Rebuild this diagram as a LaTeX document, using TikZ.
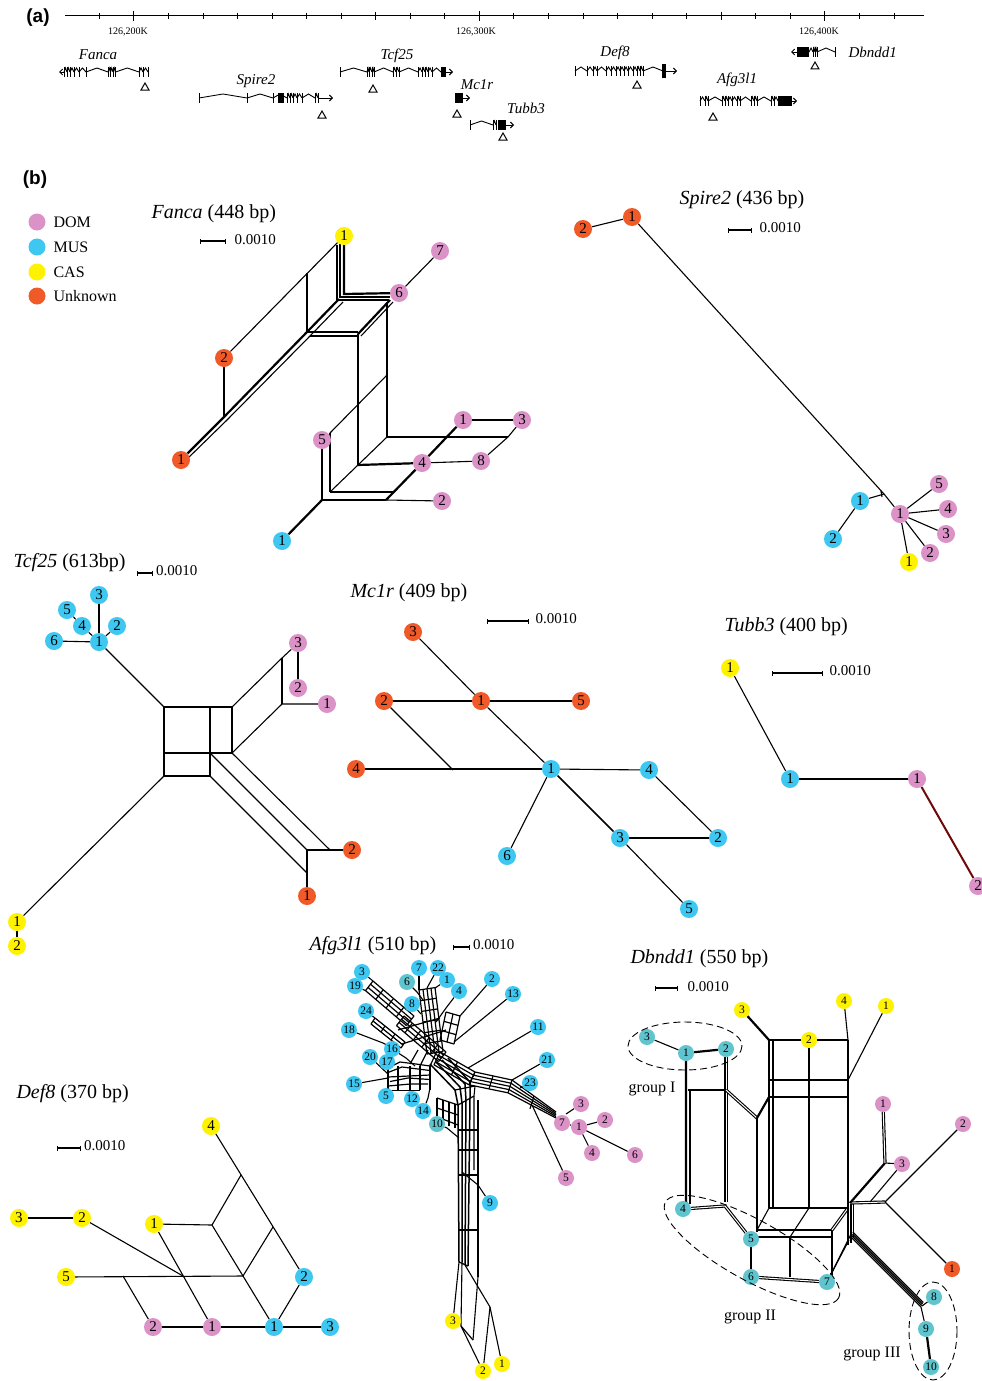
\documentclass[tikz,border=0pt]{standalone}
\usepackage{tikz}
\usepackage{fontspec}
\setmainfont{Liberation Serif}
\newfontfamily\lsans{Liberation Sans}
\usetikzlibrary{arrows.meta}
\pgfdeclarelayer{back}
\pgfdeclarelayer{bg}
\pgfsetlayers{back,bg,main}
\definecolor{domc}{RGB}{219,146,198}
\definecolor{musc}{RGB}{62,199,240}
\definecolor{casc}{RGB}{255,242,0}
\definecolor{unkc}{RGB}{240,90,40}
\definecolor{telc}{RGB}{95,196,205}
\definecolor{tubred}{RGB}{110,10,10}
\newcommand{\genehats}[3]{%
  \foreach \x [remember=\x as \lx (initially #2)] in {#3} {
    \draw[gl] (\lx,#1) -- ({(\lx+\x)/2},{#1-4}) -- (\x,#1);
    \draw[gl] (\x,{#1-5}) -- (\x,{#1+5});
  }}
\newcommand{\gtri}[2]{\draw[line width=1pt] ({#1-4},{#2+3}) -- ({#1+4},{#2+3}) -- (#1,{#2-4}) -- cycle;}
\newcommand{\ladder}[8]{%
  \foreach \i in {0,...,#7} \draw[thn] ({#1+\i*#5},{#2+\i*#6}) -- ({#3+\i*#5},{#4+\i*#6});
  \foreach \j in {0,...,#8} \draw[thn] ({#1+(#3-#1)*\j/#8},{#2+(#4-#2)*\j/#8}) -- ++({#7*#5},{#7*#6});
}
\begin{document}
\begin{tikzpicture}[x=1pt,y=-1pt,
  hap/.style={circle,inner sep=0pt,minimum size=18pt,font=\fontsize{15}{15}\selectfont},
  hs/.style={circle,inner sep=0pt,minimum size=16pt,font=\fontsize{11.5}{11.5}\selectfont},
  cD/.style={fill=domc}, cM/.style={fill=musc}, cC/.style={fill=casc}, cU/.style={fill=unkc}, cT/.style={fill=telc},
  ttl/.style={font=\fontsize{20}{20}\selectfont, anchor=west},
  sclab/.style={font=\fontsize{15}{15}\selectfont, anchor=west},
  net/.style={line width=1.1pt},
  thk/.style={line width=2.2pt},
  thn/.style={line width=1.2pt},
  dbl/.style={double=white, double distance=1pt, line width=1.1pt},
  sbar/.style={line width=1.1pt, {Bar[width=5pt]}-{Bar[width=5pt]}},
  gl/.style={line width=0.9pt},
  garr/.style={gl,-{Straight Barb[length=3pt,width=6pt]}},
  gname/.style={font=\itshape\fontsize{15}{15}\selectfont},
  grp/.style={dash pattern=on 7pt off 4pt, line width=0.9pt},
  grplab/.style={font=\fontsize{16}{16}\selectfont},
  leg/.style={font=\fontsize{16}{16}\selectfont, anchor=west}]
\useasboundingbox (0,0) rectangle (982,1381);
\begin{pgfonlayer}{back}
\fill[white] (0,0) rectangle (982,1381);
\end{pgfonlayer}

% ---------------- panel (a) ----------------
\node[font=\lsans\bfseries\fontsize{19}{19}\selectfont] (la) at (38,18) {(a)};
\draw[line width=1pt] (65,16) -- (924,16);
\foreach \i in {0,...,23} \draw[line width=0.9pt] ({99.3+\i*34.55},13) -- ++(0,6);
\foreach \i in {1,11,21} \draw[line width=1pt] ({99.3+\i*34.55},11) -- ++(0,10);
\foreach \i in {8,18} \draw[line width=1.3pt] ({99.3+\i*34.55},12) -- ++(0,8);
\node[font=\fontsize{10}{10}\selectfont] (k2) at (128,32) {126,200K};
\node[font=\fontsize{10}{10}\selectfont] (k3) at (476,32) {126,300K};
\node[font=\fontsize{10}{10}\selectfont] (k4) at (819,32) {126,400K};

\node[gname] (gFanca) at (98,55) {Fanca};
\draw[garr] (64,72) -- (59,72);
\genehats{72}{64}{64,67,70,74,79,86,108,110.5,113,115.5,139,143,148}
\gtri{145}{87}

\node[gname] (gSpire) at (256,81) {Spire2};
\genehats{98}{199}{199,247,273,287,290,293,297,302,315,318}
\fill (278,93) rectangle (284,103);
\draw[garr] (318,98) -- (333,98);
\gtri{322}{115}

\node[gname] (gTcf) at (397,56) {Tcf25};
\genehats{72}{340}{340,367,369,372,374,393,396,399,418,422,425,428,432,441}
\fill (441,67) rectangle (446,77);
\draw[garr] (446,72) -- (453,72);
\gtri{373}{89}

\node[gname] (gMc) at (477,85) {Mc1r};
\fill (455,93) rectangle (463,103);
\draw[garr] (463,98) -- (470,98);
\gtri{457}{114}

\node[gname] (gTub) at (526,108) {Tubb3};
\genehats{125}{470}{470,493,496}
\fill (498,120) rectangle (506,130);
\draw[garr] (506,125) -- (514,125);
\gtri{503}{137}

\node[gname] (gDef) at (615,53) {Def8};
\genehats{71}{575}{575,587,593,597,606,611,616,620,624,628,633,637,640,643,663}
\fill (662,64) rectangle (666,78);
\draw[garr] (666,71) -- (677,71);
\gtri{637}{85}

\node[gname] (gAfg) at (737,80) {Afg3l1};
\genehats{101}{700}{700,705,708,722,725,728,732,737,740,751,754,757,771,774,778}
\fill (778,96) rectangle (792,106);
\draw[garr] (792,101) -- (797,101);
\gtri{713}{117}

\node[gname, anchor=west] (gDbn) at (845,52) {Dbndd1};
\draw[garr] (797,52) -- (791,52);
\fill (797,47) rectangle (809,57);
\genehats{52}{809}{813,815,817,835}
\gtri{815}{66}

% ---------------- panel (b) ----------------
\node[font=\lsans\bfseries\fontsize{19}{19}\selectfont] (lb) at (35,180) {(b)};
\node[hap,cD,minimum size=17pt] (lg1) at (37,222) {};
\node[hap,cM,minimum size=17pt] (lg2) at (37,247) {};
\node[hap,cC,minimum size=17pt] (lg3) at (37,272) {};
\node[hap,cU,minimum size=17pt] (lg4) at (37,296) {};
\node[leg] (lt1) at (50,222) {DOM};
\node[leg] (lt2) at (50,247) {MUS};
\node[leg] (lt3) at (50,272) {CAS};
\node[leg] (lt4) at (50,296) {Unknown};

% ===== Fanca =====
\node[ttl] (tFa) at (148,214) {\textit{Fanca} (448 bp)};
\draw[sbar] (200,241) -- (226,241);
\node[sclab] (sFa) at (231,240) {0.0010};
\node[hap,cC] (fa-c1) at (344,236) {1};
\node[hap,cD] (fa-d7) at (440,251) {7};
\node[hap,cD] (fa-d6) at (399,293) {6};
\node[hap,cU] (fa-u2) at (224,358) {2};
\node[hap,cU] (fa-u1) at (181,460) {1};
\node[hap,cD] (fa-d5) at (322,440) {5};
\node[hap,cD] (fa-d1) at (463,420) {1};
\node[hap,cD] (fa-d3) at (522,420) {3};
\node[hap,cD] (fa-d4) at (422,463) {4};
\node[hap,cD] (fa-d8) at (481,461) {8};
\node[hap,cD] (fa-d2) at (442,501) {2};
\node[hap,cM] (fa-m1) at (282,541) {1};
\begin{pgfonlayer}{bg}
\draw[thk] (fa-c1) -- (344,294) -- (fa-d6);
\draw[net] (340,244) -- (340,297) -- (390,297);
\draw[net] (337,245) -- (337,300) -- (389,300);
\draw[net] (fa-c1) -- (fa-u2);
\draw[net] (307,273) -- (307,332);
\draw[thk] (339,299) -- (307,332) -- (224,417) -- (fa-u1);
\draw[net] (343,302) -- (310,336) -- (227,420) -- (184,462);
\draw[net] (fa-u2) -- (224,417);
\draw[net] (307,332) -- (358,332);
\draw[net] (310,336) -- (358,336);
\draw[thk] (390,300) -- (358,334);
\draw[net] (393,302) -- (361,336);
\draw[net] (358,334) -- (358,465);
\draw[net] (387,302) -- (387,437);
\draw[net] (330,433) -- (387,375);
\draw[thk] (fa-d5) -- (322,500);
\draw[net] (330,433) -- (330,492);
\draw[thk] (322,500) -- (386,500);
\draw[net] (386,500) -- (fa-d2);
\draw[net] (330,492) -- (393,492);
\draw[thk] (322,500) -- (fa-m1);
\draw[net] (330,492) -- (358,465);
\draw[thk] (358,465) -- (fa-d4);
\draw[thk] (386,500) -- (fa-d4);
\draw[thk] (fa-d4) -- (fa-d1);
\draw[line width=1.6pt] (387,437) -- (508,437);
\draw[net] (387,437) -- (358,465);
\draw[thk] (fa-d1) -- (fa-d3);
\draw[net] (fa-d3) -- (508,437) -- (fa-d8);
\draw[net] (fa-d4) -- (fa-d8);
\draw[net] (fa-d6) -- (fa-d7);
\end{pgfonlayer}

% ===== Spire2 =====
\node[ttl] (tSp) at (676,200) {\textit{Spire2} (436 bp)};
\draw[sbar] (728,230) -- (752,230);
\node[sclab] (sSp) at (756,228) {0.0010};
\node[hap,cU] (sp-u2) at (583,229) {2};
\node[hap,cU] (sp-u1) at (632,217) {1};
\node[hap,cM] (sp-m1) at (860,501) {1};
\node[hap,cM] (sp-m2) at (833,539) {2};
\node[hap,cD] (sp-d1) at (900,514) {1};
\node[hap,cD] (sp-d5) at (939,484) {5};
\node[hap,cD] (sp-d4) at (948,509) {4};
\node[hap,cD] (sp-d3) at (946,534) {3};
\node[hap,cD] (sp-d2) at (930,553) {2};
\node[hap,cC] (sp-c1) at (909,562) {1};
\begin{pgfonlayer}{bg}
\draw[net] (sp-u2) -- (sp-u1);
\draw[net] (sp-u1) -- (884,494) -- (sp-d1);
\draw[net] (sp-m1) -- (884,494);
\draw[net] (881,491) -- (882,497);
\draw[net] (sp-m1) -- (sp-m2);
\foreach \n in {sp-d5,sp-d4,sp-d3,sp-d2,sp-c1} \draw[net] (sp-d1) -- (\n);
\end{pgfonlayer}

% ===== Tcf25 =====
\node[ttl] (tTc) at (10,563) {\textit{Tcf25} (613bp)};
\draw[sbar] (137,573) -- (153,573);
\node[sclab,inner sep=1pt] (sTc) at (155,571) {0.0010};
\node[hap,cM] (tc-m3) at (99,595) {3};
\node[hap,cM] (tc-m5) at (67,610) {5};
\node[hap,cM] (tc-m4) at (82,626) {4};
\node[hap,cM] (tc-m2) at (117,626) {2};
\node[hap,cM] (tc-m6) at (54,641) {6};
\node[hap,cM] (tc-m1) at (99,642) {1};
\node[hap,cD] (tc-d3) at (298,643) {3};
\node[hap,cD] (tc-d2) at (298,688) {2};
\node[hap,cD] (tc-d1) at (327,704) {1};
\node[hap,cU] (tc-u2) at (352,850) {2};
\node[hap,cU] (tc-u1) at (307,896) {1};
\node[hap,cC] (tc-c1) at (17,922) {1};
\node[hap,cC] (tc-c2) at (17,946) {2};
\begin{pgfonlayer}{bg}
\draw[net] (tc-m1) -- (tc-m3);
\draw[net] (tc-m1) -- (tc-m2);
\draw[net] (tc-m1) -- (tc-m4);
\draw[net] (tc-m4) -- (tc-m5);
\draw[net] (tc-m1) -- (tc-m6);
\draw[net] (tc-m1) -- (164,707);
\draw[net] (164,707) -- (232,707) -- (232,753) -- (164,753);
\draw[net] (164,707) -- (164,776) -- (210,776) -- (210,707);
\draw[net] (232,707) -- (282,658) -- (tc-d3);
\draw[net] (232,753) -- (282,704) -- (tc-d1);
\draw[net] (282,658) -- (282,704);
\draw[net] (tc-d3) -- (tc-d2);
\draw[net] (164,776) -- (tc-c1);
\draw[net] (tc-c1) -- (tc-c2);
\draw[net] (232,753) -- (330,850);
\draw[net] (210,753) -- (307,850);
\draw[net] (210,776) -- (307,873);
\draw[net] (307,850) -- (tc-u2);
\draw[net] (307,850) -- (tc-u1);
\end{pgfonlayer}

% ===== Mc1r =====
\node[ttl] (tMc) at (347,593) {\textit{Mc1r} (409 bp)};
\draw[sbar] (487,621) -- (529,621);
\node[sclab] (sMc) at (532,619) {0.0010};
\node[hap,cU] (mc-u3) at (413,632) {3};
\node[hap,cU] (mc-u2) at (384,701) {2};
\node[hap,cU] (mc-u1) at (481,701) {1};
\node[hap,cU] (mc-u5) at (581,701) {5};
\node[hap,cU] (mc-u4) at (356,769) {4};
\node[hap,cM] (mc-m1) at (551,769) {1};
\node[hap,cM] (mc-m4) at (649,770) {4};
\node[hap,cM] (mc-m3) at (620,838) {3};
\node[hap,cM] (mc-m2) at (718,838) {2};
\node[hap,cM] (mc-m6) at (507,856) {6};
\node[hap,cM] (mc-m5) at (689,909) {5};
\begin{pgfonlayer}{bg}
\draw[net] (mc-u3) -- (mc-u1);
\draw[net] (mc-u2) -- (mc-u1);
\draw[net] (mc-u1) -- (mc-u5);
\draw[net] (mc-u1) -- (mc-m1);
\draw[net] (mc-u2) -- (453,770);
\draw[net] (mc-u4) -- (mc-m1);
\draw[net] (mc-m1) -- (mc-m4);
\draw[line width=1.6pt] (mc-m1) -- (mc-m3);
\draw[net] (mc-m1) -- (mc-m6);
\draw[net] (mc-m4) -- (mc-m2);
\draw[thk] (mc-m3) -- (mc-m2);
\draw[net] (mc-m3) -- (mc-m5);
\end{pgfonlayer}

% ===== Tubb3 =====
\node[ttl] (tTu) at (721,627) {\textit{Tubb3} (400 bp)};
\draw[sbar] (772,673) -- (823,673);
\node[sclab] (sTu) at (826,671) {0.0010};
\node[hap,cC] (tu-c1) at (730,668) {1};
\node[hap,cM] (tu-m1) at (790,779) {1};
\node[hap,cD] (tu-d1) at (917,779) {1};
\node[hap,cD] (tu-d2) at (978,886) {2};
\begin{pgfonlayer}{bg}
\draw[net] (tu-c1) -- (tu-m1);
\draw[net] (tu-m1) -- (tu-d1);
\draw[line width=2pt, tubred] (tu-d1) -- (tu-d2);
\end{pgfonlayer}

% ===== Afg3l1 =====
\node[ttl] (tAf) at (306,946) {\textit{Afg3l1} (510 bp)};
\draw[sbar] (453,947) -- (470,947);
\node[sclab,inner sep=1pt] (sAf) at (472,945) {0.0010};
\node[hs,cM] (af-m3) at (362,972) {3};
\node[hs,cM] (af-m19) at (355,986) {19};
\node[hs,cM] (af-m7) at (419,968) {7};
\node[hs,cM] (af-m22) at (438,968) {22};
\node[hs,cT] (af-t6) at (407,982) {6};
\node[hs,cM] (af-m1) at (447,980) {1};
\node[hs,cM] (af-m4) at (459,991) {4};
\node[hs,cM] (af-m2) at (492,979) {2};
\node[hs,cM] (af-m8) at (412,1004) {8};
\node[hs,cM] (af-m13) at (513,994) {13};
\node[hs,cM] (af-m24) at (366,1011) {24};
\node[hs,cM] (af-m18) at (349,1030) {18};
\node[hs,cM] (af-m11) at (538,1027) {11};
\node[hs,cM] (af-m20) at (370,1057) {20};
\node[hs,cM] (af-m17) at (387,1062) {17};
\node[hs,cM] (af-m16) at (392,1049) {16};
\node[hs,cM] (af-m21) at (547,1060) {21};
\node[hs,cM] (af-m15) at (354,1084) {15};
\node[hs,cM] (af-m23) at (530,1083) {23};
\node[hs,cM] (af-m5) at (386,1096) {5};
\node[hs,cM] (af-m12) at (412,1099) {12};
\node[hs,cM] (af-m14) at (423,1111) {14};
\node[hs,cT] (af-t10) at (437,1124) {10};
\node[hs,cD] (af-d3) at (581,1104) {3};
\node[hs,cD] (af-d7) at (562,1123) {7};
\node[hs,cD] (af-d2) at (605,1120) {2};
\node[hs,cD] (af-d1) at (579,1127) {1};
\node[hs,cD] (af-d4) at (592,1153) {4};
\node[hs,cD] (af-d6) at (635,1155) {6};
\node[hs,cD] (af-d5) at (566,1178) {5};
\node[hs,cM] (af-m9) at (490,1203) {9};
\node[hs,cC] (af-c3) at (453,1321) {3};
\node[hs,cC] (af-c2) at (483,1371) {2};
\node[hs,cC] (af-c1) at (502,1364) {1};
\begin{pgfonlayer}{bg}
% upper-left arm
\ladder{373}{981}{414}{1016}{-2.5}{3.2}{3}{4}
\draw[net] (af-m3) -- (373,981);
\draw[net] (af-m19) -- (365.5,990.6);
\ladder{375}{1018}{405}{1042}{-2}{3}{2}{3}
\draw[net] (af-m24) -- (375,1018);
\draw[net] (af-m18) -- (383,1043) -- (400,1052);
% top arm and core
\ladder{419}{990}{427}{1054}{4}{-0.6}{4}{6}
\ladder{404}{1016}{446}{1052}{-2.5}{3.2}{3}{5}
\draw[thn] (398,1030) -- (440,1018);
\draw[thn] (402,1044) -- (446,1030);
\draw[net] (af-m7) -- (419,990);
\draw[net] (af-m22) -- (427,988);
\draw[net] (af-m1) -- (435,988);
\draw[net] (af-t6) -- (417,992) -- (423,1000);
\draw[net] (af-m8) -- (421,1014);
\draw[net] (af-m4) -- (446,1008) -- (436,1022);
\ladder{446}{1012}{440}{1040}{7}{2}{2}{3}
\draw[net] (af-m2) -- (460,1016);
\draw[net] (af-m13) -- (454,1042);
% left cluster
\draw[thn] (388,1068) -- (400,1062) -- (416,1064) -- (430,1066);
\draw[thn] (388,1072.5) -- (402,1067) -- (430,1070.5);
\draw[thn] (388,1077) -- (430,1075);
\draw[thn] (390,1081.5) -- (408,1078) -- (430,1079.5);
\draw[thn] (388,1086) -- (410,1084) -- (428,1084);
\draw[thn] (388,1090.5) -- (420,1090.5);
\foreach \x in {388,398,410,420,430} \draw[thn] (\x,1066) -- (\x,1090);
\draw[thn] (420,1066) -- (428,1050);
\draw[thn] (430,1066) -- (437,1051);
\draw[thn] (410,1064) -- (418,1050);
\draw[net] (af-m16) -- (406,1058) -- (415,1066);
\draw[net] (af-m17) -- (388,1070);
\draw[net] (af-m20) -- (388,1074);
\draw[net] (af-m15) -- (388,1078);
\draw[net] (af-m5) -- (388,1090);
\draw[net] (af-m12) -- (409,1090);
\draw[net] (af-m14) -- (428,1098) -- (430,1088);
% right arm
\foreach \i in {0,...,4} \draw[thn] ({440-1.5*\i},{1052+3.2*\i}) -- ({475-1.5*\i},{1072+3.2*\i}) -- ({512-1*\i},{1080+3.2*\i}) -- (556,{1112+1.5*\i});
\foreach \t in {0,0.5,1} \draw[thn] ({440+35*\t},{1052+20*\t}) -- ++(-6,12.8);
\draw[thn] (475,1072) -- (469,1084.8);
\draw[thn] (493,1076) -- (489,1088.8);
\draw[thn] (512,1080) -- (508,1092.8);
\draw[thn] (534,1096) -- (530,1108.8);
\draw[net] (af-m11) -- (468,1068);
\draw[net] (af-m21) -- (512,1080);
\draw[net] (af-m23) -- (520,1088);
\draw[net] (af-d5) -- (532,1105);
\draw[net] (af-d7) -- (af-d1);
\draw[net] (566,1114) -- (af-d3);
\draw[net] (af-d1) -- (af-d2);
\draw[net] (af-d1) -- (af-d4);
\draw[net] (af-d1) -- (af-d6);
% down arm
\draw[line width=1.5pt] (430,1064) -- (455,1090) -- (458,1105) -- (459,1262);
\draw[line width=1.5pt] (436,1062) -- (460,1087) -- (462,1103) -- (462,1262);
\draw[line width=1.5pt] (442,1060) -- (465,1084) -- (466,1100) -- (465,1265);
\draw[line width=1.5pt] (448,1058) -- (470,1082) -- (470,1098) -- (468,1266);
\draw[net] (475,1086) -- (474,1096) -- (474,1170);
\draw[thn] (455,1090) -- (475,1086);
\draw[thn] (458,1105) -- (474,1096);
\foreach \y in {1130,1150,1175,1230} \draw[thn] (459,\y) -- (477,\y);
\foreach \i in {0,1,2,3} \draw[thn] ({437+6*\i},{1098+2*\i}) -- ({437+6*\i},{1122+2*\i});
\draw[thn] (437,1098) -- (458,1105);
\draw[thn] (437,1108) -- (458,1115);
\draw[thn] (440,1118) -- (458,1125);
\draw[net] (af-t10) -- (447,1128) -- (459,1138);
\draw[net] (478,1100) -- (478,1277);
\draw[net] (af-m9) -- (478,1185) -- (462,1172);
\draw[net] (459,1262) -- (af-c3);
\draw[net] (462,1262) -- (461,1326) -- (af-c2);
\draw[net] (465,1265) -- (490,1307) -- (af-c1);
\draw[net] (490,1307) -- (af-c2);
\draw[net] (478,1277) -- (473,1340);
\draw[thn] (459,1262) -- (468,1266);
\draw[thn] (461,1326) -- (473,1340);
\end{pgfonlayer}

% ===== Dbndd1 =====
\node[ttl] (tDb) at (627,959) {\textit{Dbndd1} (550 bp)};
\draw[sbar] (655,988) -- (678,988);
\node[sclab] (sDb) at (684,987) {0.0010};
\node[hs,cC] (db-c3) at (742,1010) {3};
\node[hs,cC] (db-c4) at (844,1001) {4};
\node[hs,cC] (db-c1) at (886,1006) {1};
\node[hs,cC] (db-c2) at (809,1040) {2};
\node[hs,cT] (db-t3) at (647,1037) {3};
\node[hs,cT] (db-t1) at (686,1053) {1};
\node[hs,cT] (db-t2) at (726,1049) {2};
\node[hs,cD] (db-d1) at (883,1104) {1};
\node[hs,cD] (db-d2) at (963,1124) {2};
\node[hs,cD] (db-d3) at (902,1164) {3};
\node[hs,cT] (db-t4) at (683,1209) {4};
\node[hs,cT] (db-t5) at (751,1239) {5};
\node[hs,cT] (db-t6) at (751,1277) {6};
\node[hs,cT] (db-t7) at (827,1282) {7};
\node[hs,cU] (db-u1) at (952,1269) {1};
\node[hs,cT] (db-t8) at (934,1297) {8};
\node[hs,cT] (db-t9) at (926,1329) {9};
\node[hs,cT] (db-t10) at (931,1367) {10};
\node[grplab] (gI) at (652,1089) {group I};
\node[grplab] (gII) at (750,1317) {group II};
\node[grplab] (gIII) at (872,1354) {group III};
\draw[grp] (685,1046) ellipse [x radius=57, y radius=24];
\draw[grp, rotate around={-29:(752,1250)}] (752,1250) ellipse [x radius=99, y radius=30];
\draw[grp] (933,1331) ellipse [x radius=24, y radius=49];
\begin{pgfonlayer}{bg}
\draw[net] (db-t3) -- (db-t1);
\draw[thk] (db-t1) -- (db-t2);
\draw[thk] (686,1060) -- (686,1203) -- (db-t4);
\draw[net] (690,1090) -- (690,1204);
\draw[dbl] (db-t2) -- (726,1202);
\draw[net] (688,1090) -- (726,1090);
\draw[dbl] (726,1090) -- (757,1118);
\draw[dbl] (db-t4) -- (725,1206) -- (db-t5);
\draw[thk] (757,1118) -- (757,1232);
\draw[thk] (757,1118) -- (769,1097);
\draw[thk] (db-c3) -- (769,1040);
\draw[net] (769,1040) -- (848,1040);
\draw[thk] (769,1040) -- (769,1208);
\draw[net] (773,1040) -- (773,1208);
\draw[thk] (db-c2) -- (809,1208);
\draw[net] (848,1040) -- (848,1208);
\draw[net] (db-c4) -- (848,1040);
\draw[net] (db-c1) -- (848,1080);
\draw[net] (769,1080) -- (848,1080);
\draw[net] (769,1097) -- (848,1097);
\draw[line width=1.5pt] (769,1208) -- (848,1208);
\draw[net] (769,1208) -- (757,1230);
\draw[line width=1.5pt] (757,1230) -- (832,1230);
\draw[net] (757,1237) -- (832,1237);
\draw[net] (790,1237) -- (790,1277);
\draw[net] (809,1208) -- (790,1237);
\draw[net] (db-t5) -- (db-t6);
\draw[dbl] (db-t6) -- (db-t7);
\draw[net] (832,1230) -- (832,1275);
\draw[dbl] (832,1230) -- (848,1208);
\draw[net] (db-t7) -- (849,1240);
\draw[net] (db-t7) -- (852,1232);
\draw[net] (848,1203) -- (848,1245);
\draw[net] (851,1203) -- (851,1243);
\draw[net] (853.5,1203) -- (853.5,1238);
\draw[dbl] (850,1203) -- (885,1202);
\draw[thk] (850,1203) -- (885,1163);
\draw[net] (885,1163) -- (db-d3);
\draw[dbl] (db-d1) -- (885,1163);
\draw[net] (870,1202) -- (db-d3);
\draw[net] (885,1202) -- (db-d2);
\draw[net] (885,1202) -- (db-u1);
\foreach \o in {0,2.5,5,7.5} \draw[thn] ({851+\o*0.3},{1237-\o*0.6}) -- ({921+\o*0.3},{1307-\o*0.6});
\draw[net] (db-t8) -- (922,1306);
\draw[net] (921,1307) -- (db-t9);
\draw[thk] (db-t9) -- (db-t10);
\end{pgfonlayer}

% ===== Def8 =====
\node[ttl] (tDe) at (13,1094) {\textit{Def8} (370 bp)};
\draw[sbar] (57,1148) -- (81,1148);
\node[sclab,inner sep=1pt] (sDe) at (83,1146) {0.0010};
\node[hap,cC] (de-c4) at (211,1126) {4};
\node[hap,cC] (de-c3) at (19,1218) {3};
\node[hap,cC] (de-c2) at (82,1218) {2};
\node[hap,cC] (de-c1) at (154,1224) {1};
\node[hap,cC] (de-c5) at (66,1277) {5};
\node[hap,cM] (de-m2) at (304,1277) {2};
\node[hap,cD] (de-d2) at (153,1327) {2};
\node[hap,cD] (de-d1) at (212,1327) {1};
\node[hap,cM] (de-m1) at (274,1327) {1};
\node[hap,cM] (de-m3) at (330,1327) {3};
\begin{pgfonlayer}{bg}
\draw[net] (de-c4) -- (de-m2);
\draw[net] (de-c1) -- (212,1225);
\draw[net] (212,1225) -- (241,1175);
\draw[net] (212,1225) -- (de-m1);
\draw[net] (273,1227) -- (243,1276);
\draw[net] (de-c5) -- (243,1276);
\draw[net] (123,1276) -- (de-d2);
\draw[net] (de-c2) -- (183,1276);
\draw[net] (de-c1) -- (de-d1);
\draw[net] (de-c3) -- (de-c2);
\draw[net] (de-d2) -- (de-d1);
\draw[net] (de-d1) -- (de-m1);
\draw[net] (de-m1) -- (de-m3);
\draw[net] (de-m1) -- (de-m2);
\end{pgfonlayer}
\end{tikzpicture}
\end{document}
